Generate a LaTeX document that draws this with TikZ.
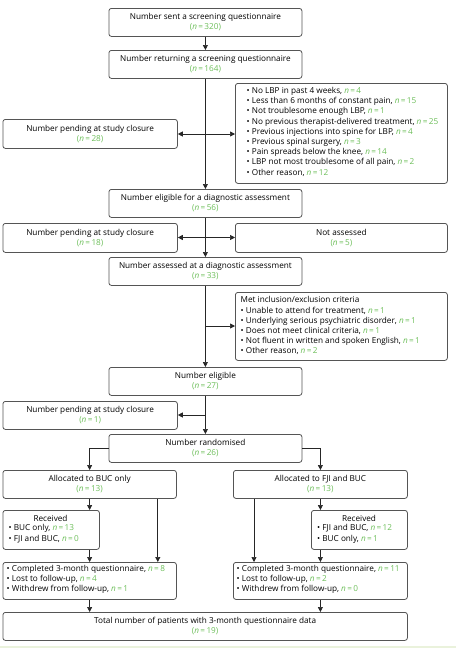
\documentclass[tikz,border=0pt]{standalone}
\usepackage{fontspec}
\setmainfont{Open Sans}
\usetikzlibrary{arrows.meta}
\definecolor{ngreen}{HTML}{6DBE5A}
\definecolor{boxgray}{HTML}{555555}
\definecolor{band}{HTML}{EAF2DC}
\newcommand{\nn}[1]{\textcolor{ngreen}{\textit{n}\,=\,#1}}
\newcommand{\np}[1]{\textcolor{ngreen}{(\textit{n}\,=\,#1)}}
\begin{document}
\begin{tikzpicture}[x=1pt,y=-1pt,
  font=\fontsize{8.2}{10.2}\selectfont,
  box/.style={draw=boxgray, line width=0.8pt, rounded corners=2.5pt, inner sep=0pt, anchor=north west, align=center},
  txt/.style={inner sep=0pt, anchor=north west, align=left},
  ttl/.style={inner sep=0pt, anchor=center, align=center},
  arr/.style={draw=black!85, line width=0.7pt, -{Triangle[length=5pt,width=5pt]}},
  darr/.style={draw=black!85, line width=0.7pt, {Triangle[length=5pt,width=5pt]}-{Triangle[length=5pt,width=5pt]}},
  ln/.style={draw=black!85, line width=0.7pt}]
\useasboundingbox (0,0) rectangle (456,648);
\fill[band] (0,646) rectangle (456,648);

% boxes
\node[box, minimum width=193pt, minimum height=28pt] (b1) at (108.5,8) {Number sent a screening questionnaire\\\np{320}};
\node[box, minimum width=193pt, minimum height=28pt] (b2) at (108.5,50) {Number returning a screening questionnaire\\\np{164}};
\node[box, minimum width=212pt, minimum height=100pt] (reas) at (235,83) {};
\node[txt] (reas-t) at (246.5,87) {%
\textbullet\ No LBP in past 4 weeks, \nn{4}\\
\textbullet\ Less than 6 months of constant pain, \nn{15}\\
\textbullet\ Not troublesome enough LBP, \nn{1}\\
\textbullet\ No previous therapist-delivered treatment, \nn{25}\\
\textbullet\ Previous injections into spine for LBP, \nn{4}\\
\textbullet\ Previous spinal surgery, \nn{3}\\
\textbullet\ Pain spreads below the knee, \nn{14}\\
\textbullet\ LBP not most troublesome of all pain, \nn{2}\\
\textbullet\ Other reason, \nn{12}};
\node[box, minimum width=174.5pt, minimum height=29pt] (p1) at (2.5,119) {Number pending at study closure\\\np{28}};
\node[box, minimum width=193pt, minimum height=28pt] (el) at (108.5,189) {Number eligible for a diagnostic assessment\\\np{56}};
\node[box, minimum width=174.5pt, minimum height=29pt] (p2) at (2.5,223) {Number pending at study closure\\\np{18}};
\node[box, minimum width=212pt, minimum height=29pt] (na) at (235,223) {Not assessed\\\np{5}};
\node[box, minimum width=193pt, minimum height=28pt] (as) at (108.5,257) {Number assessed at a diagnostic assessment\\\np{33}};
\node[box, minimum width=212pt, minimum height=68pt] (cr) at (235,292) {};
\node[txt] (cr-t) at (240.5,296.5) {%
Met inclusion/exclusion criteria\\
\textbullet\ Unable to attend for treatment, \nn{1}\\
\textbullet\ Underlying serious psychiatric disorder, \nn{1}\\
\textbullet\ Does not meet clinical criteria, \nn{1}\\
\textbullet\ Not fluent in written and spoken English, \nn{1}\\
\textbullet\ Other reason, \nn{2}};
\node[box, minimum width=193pt, minimum height=28pt] (e27) at (108.5,367) {Number eligible\\\np{27}};
\node[box, minimum width=174.5pt, minimum height=28pt] (p3) at (2.5,401) {Number pending at study closure\\\np{1}};
\node[box, minimum width=193pt, minimum height=28pt] (ra) at (108.5,434) {Number randomised\\\np{26}};
\node[box, minimum width=173.5pt, minimum height=28pt] (ab) at (2.5,470) {Allocated to BUC only\\\np{13}};
\node[box, minimum width=174pt, minimum height=28pt] (af) at (233,470) {Allocated to FJI and BUC\\\np{13}};
\node[box, minimum width=96.5pt, minimum height=39pt] (rl) at (2.5,510) {};
\node[ttl] (rl-h) at (50.5,518) {Received};
\node[txt] (rl-t) at (8.5,524.5) {\textbullet\ BUC only, \nn{13}\\\textbullet\ FJI and BUC, \nn{0}};
\node[box, minimum width=96pt, minimum height=39pt] (rr) at (311,510) {};
\node[ttl] (rr-h) at (359,518) {Received};
\node[txt] (rr-t) at (317,524.5) {\textbullet\ FJI and BUC, \nn{12}\\\textbullet\ BUC only, \nn{1}};
\node[box, minimum width=173.5pt, minimum height=37pt] (cl) at (2.5,562) {};
\node[txt] (cl-t) at (6.5,565) {%
\textbullet\ Completed 3-month questionnaire, \nn{8}\\
\textbullet\ Lost to follow-up, \nn{4}\\
\textbullet\ Withdrew from follow-up, \nn{1}};
\node[box, minimum width=174pt, minimum height=37pt] (cR) at (233,562) {};
\node[txt] (cR-t) at (236.5,565) {%
\textbullet\ Completed 3-month questionnaire, \nn{11}\\
\textbullet\ Lost to follow-up, \nn{2}\\
\textbullet\ Withdrew from follow-up, \nn{0}};
\node[box, minimum width=404.5pt, minimum height=28pt] (tot) at (2.5,612) {Total number of patients with 3-month questionnaire data\\\np{19}};

% junctions
\coordinate (j1) at (205,134);
\coordinate (j2) at (205,237.5);
\coordinate (j3) at (205,326);
\coordinate (j4) at (205,415);

% connectors
\draw[arr] (b1.south) -- (b2.north);
\draw[arr] (b2.south) -- (el.north);
\draw[darr] (j1 -| p1.east) -- (j1 -| reas.west);
\draw[arr] (el.south) -- (as.north);
\draw[darr] (j2 -| p2.east) -- (j2 -| na.west);
\draw[arr] (as.south) -- (e27.north);
\draw[arr] (j3) -- (j3 -| cr.west);
\draw[arr] (e27.south) -- (ra.north);
\draw[arr] (j4) -- (j4 -| p3.east);
\draw[arr] (ra.west) -| (ab.north);
\draw[arr] (ra.east) -| (af.north);
\draw[arr] (ab.south) -- (ab.south |- rl.north);
\draw[arr] (ab.south |- rl.south) -- (ab.south |- cl.north);
\draw[arr] ([xshift=-19pt]ab.south east) -- ([xshift=-19pt]ab.south east |- cl.north);
\draw[arr] (af.south) -- (af.south |- rr.north);
\draw[arr] (af.south |- rr.south) -- (af.south |- cR.north);
\draw[arr] ([xshift=21pt]af.south west) -- ([xshift=21pt]af.south west |- cR.north);
\draw[arr] (cl.south -| ab.south) -- (ab.south |- tot.north);
\draw[arr] (cR.south -| af.south) -- (af.south |- tot.north);
\end{tikzpicture}
\end{document}
